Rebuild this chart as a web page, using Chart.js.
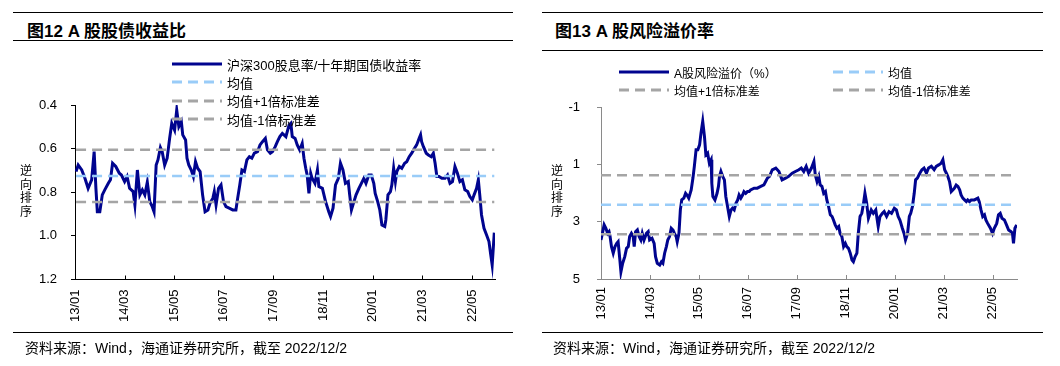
<!DOCTYPE html>
<html>
<head>
<meta charset="utf-8">
<script src="https://cdn.jsdelivr.net/npm/chart.js@4.4.1/dist/chart.umd.min.js"></script>
<style>
  body { margin: 0; background: #fff; }
  #page { position: relative; width: 1060px; height: 366px; overflow: hidden; background: #fff;
          font-family: "Liberation Sans", "Noto Sans CJK SC", sans-serif; color: #000; }
  .rule { position: absolute; height: 1px; background: #000; }
  .title { position: absolute; font-weight: bold; font-size: 17px; line-height: 20px; white-space: nowrap; }
  .src { position: absolute; font-size: 14px; line-height: 16px; white-space: nowrap; }
  .ylab { position: absolute; font-size: 12px; line-height: 13.5px; width: 14px; text-align: center; }
  .leg { position: absolute; display: flex; align-items: center; white-space: nowrap; height: 16px; }
  .leg svg { margin-right: 5px; flex: none; }
  canvas { position: absolute; top: 0; }
</style>
</head>
<body>
<div id="page">
  <div class="rule" style="left:13px;top:12px;width:500px"></div>
  <div class="title" style="left:27px;top:22px">图12 A 股股债收益比</div>
  <div class="rule" style="left:13px;top:40px;width:500px"></div>

  <div class="rule" style="left:542px;top:12px;width:501px"></div>
  <div class="title" style="left:555px;top:22px">图13 A 股风险溢价率</div>
  <div class="rule" style="left:542px;top:50px;width:501px"></div>

  <canvas id="chartRatio" width="530" height="366" style="left:0"></canvas>
  <canvas id="chartErp" width="530" height="366" style="left:530px"></canvas>

  <div id="legendRatio"></div>
  <div id="legendErp"></div>

  <div class="ylab" style="left:19px;top:165px">逆向排序</div>
  <div class="ylab" style="left:550px;top:165px">逆向排序</div>

  <div class="rule" style="left:13px;top:332px;width:500px"></div>
  <div class="src" style="left:25px;top:340px">资料来源：Wind，海通证券研究所，截至 2022/12/2</div>
  <div class="rule" style="left:542px;top:332px;width:501px"></div>
  <div class="src" style="left:553px;top:340px">资料来源：Wind，海通证券研究所，截至 2022/12/2</div>
</div>

<script>
// x positions are months since 2013/01
const xTickMonths = [0, 14, 28, 42, 56, 70, 84, 98, 112];
const xTickLabels = ['13/01', '14/03', '15/05', '16/07', '17/09', '18/11', '20/01', '21/03', '22/05'];

// 图12: 沪深300股息率/十年期国债收益率
const ratioMonths = [0.3,0.9,1.9,2.8,3.7,4.7,5.4,5.9,6.3,7.0,
  7.7,8.4,9.4,10.0,10.6,11.5,12.5,13.1,14.0,14.7,
  15.4,16.4,16.9,17.6,18.3,19.0,19.7,20.4,21.1,21.8,
  22.3,22.9,23.4,24.1,24.6,25.3,26.0,26.7,27.3,28.1,
  28.7,29.3,30.0,30.4,31.2,31.6,32.1,32.8,33.4,34.0,
  34.6,35.3,36.0,36.7,37.5,38.1,38.9,39.3,39.8,40.5,
  41.2,41.9,42.6,43.5,44.5,45.4,45.9,46.5,47.1,47.8,
  48.5,49.2,49.9,50.6,51.5,52.2,52.9,53.7,54.3,55.1,
  55.7,56.5,57.1,57.8,58.5,59.5,60.4,60.9,61.3,62.1,
  62.7,63.4,64.1,64.6,65.1,65.5,66.0,66.5,66.9,67.7,
  68.4,68.8,69.8,70.7,71.6,72.1,72.8,73.5,74.3,74.9,
  75.6,76.3,77.1,77.5,78.0,78.7,79.3,80.1,80.8,81.5,
  82.1,82.9,83.6,84.3,84.7,85.4,86.0,86.6,87.4,87.7,
  88.3,89.0,89.4,89.9,90.4,90.8,91.5,92.2,93.0,93.6,
  94.3,95.0,95.8,96.4,97.1,97.5,97.8,98.3,99.1,99.7,
  100.5,101.1,101.6,102.1,102.7,103.5,104.4,105.1,105.8,106.5,
  107.2,107.9,108.6,109.3,110.0,110.8,111.4,112.1,112.6,113.3,
  113.8,114.2,114.7,115.4,116.1,116.8,117.3,117.7,118.3];
const ratioValues = [0.705,0.675,0.698,0.736,0.782,0.743,0.614,0.782,0.889,0.889,
  0.812,0.789,0.759,0.743,0.667,0.682,0.713,0.721,0.751,0.728,
  0.782,0.797,0.858,0.698,0.812,0.789,0.812,0.754,0.843,0.866,
  0.889,0.675,0.652,0.595,0.614,0.675,0.644,0.553,0.484,0.515,
  0.423,0.499,0.476,0.537,0.560,0.644,0.675,0.698,0.728,0.660,
  0.690,0.705,0.812,0.889,0.881,0.850,0.827,0.797,0.858,0.782,
  0.766,0.843,0.866,0.873,0.881,0.881,0.827,0.766,0.698,0.705,
  0.652,0.637,0.644,0.621,0.614,0.583,0.568,0.553,0.606,0.621,
  0.614,0.591,0.568,0.545,0.530,0.545,0.492,0.484,0.545,0.553,
  0.583,0.606,0.576,0.644,0.690,0.721,0.805,0.713,0.736,0.759,
  0.698,0.774,0.782,0.843,0.889,0.911,0.873,0.766,0.736,0.667,
  0.698,0.759,0.751,0.812,0.881,0.843,0.812,0.782,0.759,0.736,
  0.759,0.721,0.721,0.759,0.805,0.843,0.881,0.950,0.957,0.927,
  0.812,0.797,0.766,0.690,0.751,0.705,0.682,0.690,0.667,0.660,
  0.637,0.621,0.598,0.583,0.553,0.537,0.568,0.591,0.621,0.629,
  0.637,0.621,0.667,0.728,0.728,0.736,0.736,0.721,0.759,0.751,
  0.682,0.713,0.751,0.743,0.789,0.797,0.820,0.835,0.812,0.782,
  0.743,0.812,0.904,0.965,0.995,1.026,1.087,1.133,0.985];
const ratioMean = 0.725;
const ratioPlusStd = 0.845;
const ratioMinusStd = 0.605;
const ratioYTicks = [0.4, 0.6, 0.8, 1.0, 1.2];

// 图13: A股风险溢价（%）
const erpMonths = [0,0.4,0.9,1.4,1.9,2.3,2.6,3.0,3.5,4.0,
  4.5,4.9,5.4,5.7,6.2,6.8,7.3,7.8,8.2,8.7,
  9.2,9.5,9.9,10.4,10.9,11.4,11.8,12.3,13.0,13.5,
  13.9,14.6,15.2,15.6,16.1,16.8,17.3,17.7,18.2,18.7,
  19.1,19.6,20.1,20.6,21.0,21.5,21.8,22.3,22.7,23.1,
  23.7,24.2,24.6,25.1,25.8,26.3,26.7,27.2,27.7,28.2,
  28.6,29.1,29.6,30.0,30.5,31.0,31.5,31.7,32.0,32.6,
  33.2,33.6,33.9,34.3,34.8,35.3,35.7,36.2,36.7,37.2,
  37.6,38.1,38.6,39.1,39.5,40.0,40.5,40.9,41.4,41.9,
  42.4,42.8,43.8,44.7,45.7,46.6,47.1,47.6,48.2,49.0,
  50.0,50.9,51.8,52.8,53.7,54.7,55.6,56.6,57.3,58.0,
  58.7,59.4,60.2,60.9,61.3,61.8,62.3,62.7,63.2,63.7,
  64.2,64.6,65.1,65.6,66.1,66.5,67.0,67.5,68.0,68.4,
  68.9,69.4,69.9,70.3,70.8,71.3,71.8,72.2,72.7,73.2,
  73.6,74.1,74.6,75.1,75.5,76.0,76.5,77.3,77.9,78.6,
  79.3,79.8,80.5,81.0,81.7,82.4,83.1,83.9,84.5,85.0,
  85.5,86.2,86.7,87.1,87.7,88.2,88.6,89.1,89.6,90.0,
  90.5,91.2,91.8,92.4,93.1,93.7,94.5,95.3,95.9,96.6,
  97.3,97.8,98.3,98.8,99.2,99.7,100.2,100.7,101.1,101.6,
  102.1,102.6,103.0,103.5,104.0,104.5,104.9,105.4,105.9,106.8,
  107.8,108.2,108.7,109.2,109.7,110.1,110.6,111.4,112.0,112.5,
  113.2,113.7,114.2,114.7,115.4,116.0,116.6,117.3,117.7,118.0,
  118.4,118.9];
const erpValues = [3.64,3.41,3.11,3.23,3.41,3.35,3.52,3.87,4.10,3.87,
  3.76,3.70,4.34,4.75,4.45,4.22,3.93,3.87,3.52,3.41,
  3.52,3.87,3.35,3.29,3.52,3.64,3.41,3.64,3.41,3.35,
  3.64,3.58,3.76,4.22,4.45,4.51,4.40,4.45,4.10,3.87,
  3.64,3.52,3.23,3.29,3.41,3.52,3.70,3.41,2.59,2.24,
  2.18,2.01,2.07,2.18,1.89,1.48,1.07,0.49,0.49,0.32,
  -0.09,-0.50,0.03,0.67,0.61,0.96,0.84,1.66,2.12,2.24,
  2.01,1.77,1.42,1.25,1.42,1.54,2.12,2.47,2.82,2.59,
  2.53,2.59,2.36,2.24,2.07,2.18,2.07,1.95,2.01,1.95,
  1.95,1.89,1.83,1.83,1.77,1.72,1.60,1.48,1.42,1.19,
  1.13,1.25,1.54,1.48,1.42,1.31,1.25,1.19,1.13,1.25,
  1.07,1.31,1.13,0.90,1.37,1.60,1.42,1.72,1.77,2.01,
  1.95,2.24,2.47,2.76,2.82,2.94,3.11,3.23,3.17,3.41,
  3.52,3.87,3.76,3.87,3.93,4.10,4.34,4.40,4.22,4.10,
  3.41,2.82,2.71,2.36,2.01,2.36,2.88,2.59,2.71,2.59,
  3.17,2.82,2.71,2.65,2.82,2.65,2.71,2.53,2.59,2.82,
  2.94,3.23,3.41,3.64,3.41,2.82,2.71,2.47,2.01,1.54,
  1.48,1.31,1.19,1.13,1.31,1.13,1.07,1.19,1.07,1.02,
  0.96,0.84,1.19,1.31,1.42,1.60,1.95,1.89,1.83,1.72,
  1.77,1.89,2.07,2.18,2.24,2.30,2.24,2.30,2.24,2.24,
  2.18,2.30,2.59,2.82,2.76,2.94,3.06,3.23,3.41,3.23,
  3.06,2.76,2.71,2.88,2.94,3.11,3.29,3.35,3.41,3.76,
  3.23,3.11];
const erpMean = 2.41;
const erpPlusStd = 3.44;
const erpMinusStd = 1.38;
const erpYTicks = [-1, 1, 3, 5];

const NAVY = '#00048f';
const LIGHT = '#99ccf8';
const GRAY = '#a5a5a5';
const FONT = 'Liberation Sans';

// x-axis tick marks in the reference point up into the plot
const innerTicks = {
  id: 'innerTicks',
  afterDraw(chart, args, opts) {
    const sx = chart.scales.x, ctx = chart.ctx, b = chart.chartArea.bottom;
    ctx.save();
    ctx.strokeStyle = opts.color;
    ctx.lineWidth = 1;
    sx.ticks.forEach(t => {
      const px = Math.round(sx.getPixelForValue(t.value)) + 0.5;
      ctx.beginPath();
      ctx.moveTo(px, b);
      ctx.lineTo(px, b - 4);
      ctx.stroke();
    });
    ctx.restore();
  }
};

function points(xs, ys) {
  return xs.map((x, i) => ({ x, y: ys[i] }));
}

function flatLine(xs, v, color) {
  return {
    data: [{ x: xs[0], y: v }, { x: xs[xs.length - 1], y: v }],
    borderColor: color, borderWidth: 2.5, borderDash: [10, 6], order: 1
  };
}

function buildChart(id, c) {
  return new Chart(document.getElementById(id), {
    type: 'line',
    data: {
      datasets: [
        { data: points(c.months, c.values), borderColor: NAVY, borderWidth: 3, order: 2 },
        flatLine(c.months, c.mean, LIGHT),
        flatLine(c.months, c.plus, GRAY),
        flatLine(c.months, c.minus, GRAY)
      ]
    },
    plugins: [innerTicks],
    options: {
      responsive: false,
      animation: false,
      layout: { padding: { top: c.top, right: c.right, left: 0, bottom: 0 } },
      elements: { point: { radius: 0 }, line: { tension: 0 } },
      plugins: { legend: { display: false }, tooltip: { enabled: false }, innerTicks: { color: c.axis } },
      scales: {
        x: {
          type: 'linear', min: 0, max: c.xMax,
          afterFit: s => { s.height = 366 - c.bottom; },
          afterBuildTicks: s => { s.ticks = xTickMonths.map(v => ({ value: v })); },
          grid: { drawOnChartArea: false, drawTicks: false },
          border: { color: c.axis, width: 1 },
          ticks: {
            autoSkip: false, minRotation: 90, maxRotation: 90, padding: c.xPad,
            color: '#000', font: { family: FONT, size: 13 },
            callback: (v, i) => xTickLabels[i]
          }
        },
        y: {
          reverse: true, min: c.yTicks[0], max: c.yTicks[c.yTicks.length - 1],
          afterFit: s => { s.width = c.left; },
          afterBuildTicks: s => { s.ticks = c.yTicks.map(v => ({ value: v })); },
          grid: { drawOnChartArea: false, tickLength: 4, color: c.axis },
          border: { color: c.axis, width: 1 },
          ticks: { padding: c.yPad, color: '#000', font: { family: FONT, size: 13 }, callback: c.fmt }
        }
      }
    }
  });
}

buildChart('chartRatio', {
  months: ratioMonths, values: ratioValues,
  mean: ratioMean, plus: ratioPlusStd, minus: ratioMinusStd,
  yTicks: ratioYTicks, fmt: v => v.toFixed(1),
  xMax: 118.5, top: 105, bottom: 279.5, left: 75, right: 35,
  xPad: 10, yPad: 14, axis: '#000'
});

buildChart('chartErp', {
  months: erpMonths, values: erpValues,
  mean: erpMean, plus: erpPlusStd, minus: erpMinusStd,
  yTicks: erpYTicks, fmt: v => String(v),
  xMax: 119, top: 107, bottom: 279, left: 71, right: 43,
  xPad: 8, yPad: 17, axis: '#8a8a8a'
});

function sample(color, dashed) {
  return `<svg width="50" height="6"><line x1="0" y1="3" x2="50" y2="3" stroke="${color}" stroke-width="3"${dashed ? ' stroke-dasharray="10 6"' : ''}/></svg>`;
}

function legendItem(x, y, color, dashed, text, size) {
  return `<div class="leg" style="left:${x}px;top:${y - 8}px;font-size:${size}px">${sample(color, dashed)}<span>${text}</span></div>`;
}

document.getElementById('legendRatio').innerHTML = [
  legendItem(172, 64, NAVY, false, '沪深300股息率/十年期国债收益率', 13),
  legendItem(172, 82, LIGHT, true, '均值', 13),
  legendItem(172, 100.5, GRAY, true, '均值+1倍标准差', 13),
  legendItem(172, 119, GRAY, true, '均值-1倍标准差', 13)
].join('');

document.getElementById('legendErp').innerHTML = [
  legendItem(619, 72, NAVY, false, 'A股风险溢价（%）', 12),
  legendItem(833, 72, LIGHT, true, '均值', 12),
  legendItem(619, 90, GRAY, true, '均值+1倍标准差', 12),
  legendItem(833, 90, GRAY, true, '均值-1倍标准差', 12)
].join('');
</script>
</body>
</html>
